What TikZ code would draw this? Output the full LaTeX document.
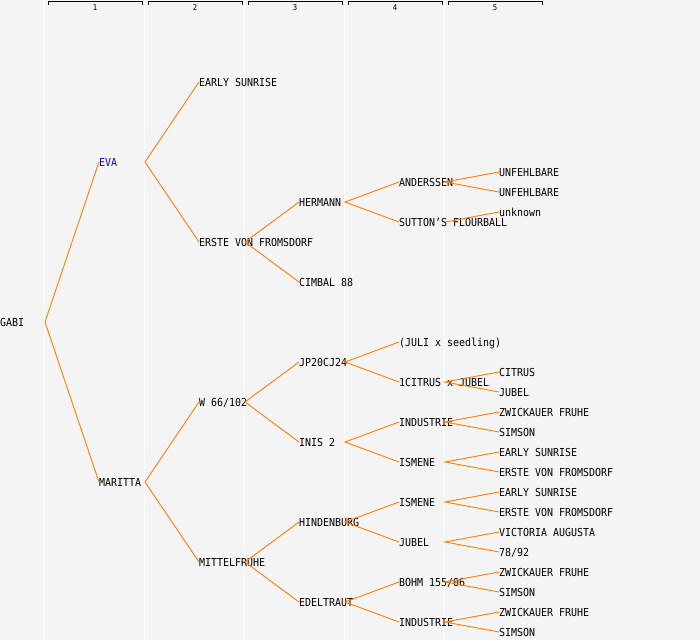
\documentclass[tikz,border=0pt]{standalone}
\usepackage{fontspec}
\newfontfamily\pedfont[FakeStretch=0.906]{DejaVu Sans Mono}
\definecolor{bgc}{HTML}{F4F4F4}
\definecolor{orc}{HTML}{FF8000}
\definecolor{evablue}{HTML}{0000FF}
\tikzset{
  nm/.style={anchor=west, inner sep=0pt, font=\pedfont\fontsize{11}{11}\selectfont, text height=8pt, text depth=0pt, text=black},
  link/.style={draw=orc, line width=0.9pt},
  sep/.style={draw=white, line width=1.6pt},
  hdr/.style={draw=black, line width=1pt},
  hnum/.style={inner sep=0pt, font=\pedfont\fontsize{8}{8}\selectfont}
}
\begin{document}
\begin{tikzpicture}[x=1pt,y=-1pt]
\useasboundingbox (0,0) rectangle (700,640);
\fill[bgc] (0,0) rectangle (700,640);
% column separators
\foreach \i in {0,...,4} {
  \draw[sep] (44.6+100*\i,0) -- (44.6+100*\i,640);
}
% header brackets
\foreach \i in {1,...,5} {
  \draw[hdr] (48+100*\i-100,4.8) -- (48+100*\i-100,1.5) -- (142+100*\i-100,1.5) -- (142+100*\i-100,4.8);
  \node[hnum] at (95+100*\i-100,7.5) {\i};
}
% generation 0
\node[nm] (g0) at (0,322) {GABI};
% generation 1
\node[nm, text=evablue] (g1a) at (99,162) {EVA};
\node[nm] (g1b) at (99,482) {MARITTA};
% generation 2
\node[nm] (g2a) at (199,82) {EARLY SUNRISE};
\node[nm] (g2b) at (199,242) {ERSTE VON FROMSDORF};
\node[nm] (g2c) at (199,402) {W 66/102};
\node[nm] (g2d) at (199,562) {MITTELFRUHE};
% generation 3
\node[nm] (g3c) at (299,202) {HERMANN};
\node[nm] (g3d) at (299,282) {CIMBAL 88};
\node[nm] (g3e) at (299,362) {JP20CJ24};
\node[nm] (g3f) at (299,442) {INIS 2};
\node[nm] (g3g) at (299,522) {HINDENBURG};
\node[nm] (g3h) at (299,602) {EDELTRAUT};
% generation 4
\node[nm] (g4e) at (399,182) {ANDERSSEN};
\node[nm] (g4f) at (399,222) {SUTTON’S FLOURBALL};
\node[nm] (g4i) at (399,342) {(JULI x seedling)};
\node[nm] (g4j) at (399,382) {1CITRUS x JUBEL};
\node[nm] (g4k) at (399,422) {INDUSTRIE};
\node[nm] (g4l) at (399,462) {ISMENE};
\node[nm] (g4m) at (399,502) {ISMENE};
\node[nm] (g4n) at (399,542) {JUBEL};
\node[nm] (g4o) at (399,582) {BOHM 155/06};
\node[nm] (g4p) at (399,622) {INDUSTRIE};
% generation 5
\node[nm] (g5a) at (499,172) {UNFEHLBARE};
\node[nm] (g5b) at (499,192) {UNFEHLBARE};
\node[nm] (g5c) at (499,212) {unknown};
\node[nm] (g5d) at (499,372) {CITRUS};
\node[nm] (g5e) at (499,392) {JUBEL};
\node[nm] (g5f) at (499,412) {ZWICKAUER FRUHE};
\node[nm] (g5g) at (499,432) {SIMSON};
\node[nm] (g5h) at (499,452) {EARLY SUNRISE};
\node[nm] (g5i) at (499,472) {ERSTE VON FROMSDORF};
\node[nm] (g5j) at (499,492) {EARLY SUNRISE};
\node[nm] (g5k) at (499,512) {ERSTE VON FROMSDORF};
\node[nm] (g5l) at (499,532) {VICTORIA AUGUSTA};
\node[nm] (g5m) at (499,552) {78/92};
\node[nm] (g5n) at (499,572) {ZWICKAUER FRUHE};
\node[nm] (g5o) at (499,592) {SIMSON};
\node[nm] (g5p) at (499,612) {ZWICKAUER FRUHE};
\node[nm] (g5q) at (499,632) {SIMSON};
% fork points
\coordinate (f0) at (45,322);
\coordinate (f1a) at (145,162);
\coordinate (f1b) at (145,482);
\coordinate (f2b) at (245,242);
\coordinate (f2c) at (245,402);
\coordinate (f2d) at (245,562);
\coordinate (f3c) at (345,202);
\coordinate (f3e) at (345,362);
\coordinate (f3f) at (345,442);
\coordinate (f3g) at (345,522);
\coordinate (f3h) at (345,602);
\coordinate (f4e) at (445,182);
\coordinate (f4f) at (445,222);
\coordinate (f4j) at (445,382);
\coordinate (f4k) at (445,422);
\coordinate (f4l) at (445,462);
\coordinate (f4m) at (445,502);
\coordinate (f4n) at (445,542);
\coordinate (f4o) at (445,582);
\coordinate (f4p) at (445,622);
% connectors
\draw[link] (g1a.west) -- (f0) -- (g1b.west);
\draw[link] (g2a.west) -- (f1a) -- (g2b.west);
\draw[link] (g2c.west) -- (f1b) -- (g2d.west);
\draw[link] (g3c.west) -- (f2b) -- (g3d.west);
\draw[link] (g3e.west) -- (f2c) -- (g3f.west);
\draw[link] (g3g.west) -- (f2d) -- (g3h.west);
\draw[link] (g4e.west) -- (f3c) -- (g4f.west);
\draw[link] (g4i.west) -- (f3e) -- (g4j.west);
\draw[link] (g4k.west) -- (f3f) -- (g4l.west);
\draw[link] (g4m.west) -- (f3g) -- (g4n.west);
\draw[link] (g4o.west) -- (f3h) -- (g4p.west);
\draw[link] (g5a.west) -- (f4e) -- (g5b.west);
\draw[link] (f4f) -- (g5c.west);
\draw[link] (g5d.west) -- (f4j) -- (g5e.west);
\draw[link] (g5f.west) -- (f4k) -- (g5g.west);
\draw[link] (g5h.west) -- (f4l) -- (g5i.west);
\draw[link] (g5j.west) -- (f4m) -- (g5k.west);
\draw[link] (g5l.west) -- (f4n) -- (g5m.west);
\draw[link] (g5n.west) -- (f4o) -- (g5o.west);
\draw[link] (g5p.west) -- (f4p) -- (g5q.west);
\end{tikzpicture}
\end{document}
